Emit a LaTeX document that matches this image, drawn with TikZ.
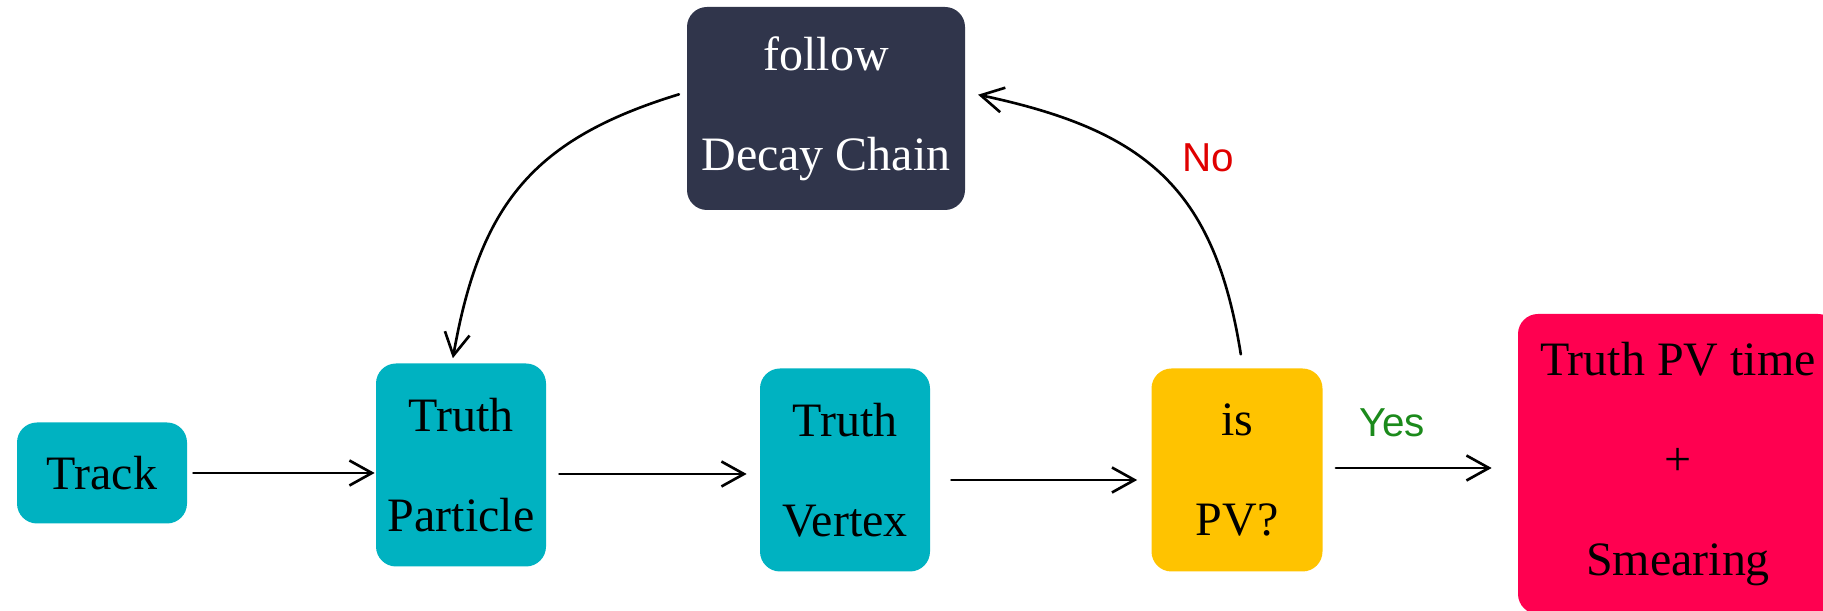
\documentclass[tikz,border=0pt]{standalone}
\usepackage{fontspec}
\setmainfont{Liberation Serif}
\newfontfamily\tayfont{Liberation Sans}
\usetikzlibrary{arrows.meta}
\definecolor{xanh}{HTML}{00B2C1}
\definecolor{vang}{HTML}{FFC300}
\definecolor{hong}{HTML}{FF0050}
\definecolor{navy}{HTML}{30354B}
\definecolor{donot}{HTML}{E00000}
\definecolor{doyes}{HTML}{1B8A1B}
\begin{document}
\begin{tikzpicture}[
    box/.style={rounded corners=0.4cm,minimum width=3.4cm,minimum height=4.06cm,
        align=center,inner sep=0pt,font=\fontsize{27.3}{56.9}\selectfont},
    arr/.style={-{Straight Barb[length=0.45cm,width=0.5cm]},line width=1.5pt,line cap=round},
    lab/.style={inner sep=0pt,font=\tayfont\fontsize{23}{27}\selectfont}]
    \useasboundingbox (0,0) rectangle (36.46,12.22);
    \clip (0,0) rectangle (36.46,12.22);
    \path
    (2.04,2.76) node[box,fill=xanh,minimum height=2.02cm] (track) {Track}
    (9.22,2.92) node[box,fill=xanh] (tpart) {Truth\\Particle}
    (16.9,2.82) node[box,fill=xanh] (tvert) {Truth\\Vertex}
    (24.74,2.82) node[box,fill=vang,minimum width=3.42cm] (ispv) {is\\PV?}
    (16.52,10.05) node[box,fill=navy,text=white,minimum width=5.56cm] (chain) {follow\\Decay Chain}
    (33.56,2.94) node[box,fill=hong,minimum width=6.4cm,minimum height=6cm] (smear) {Truth PV time\\+\\Smearing};
    % mui ten ngang
    \foreach \a/\b/\s/\e/\h in {track/tpart/0.12/0.02/0,tpart/tvert/0.26/0.26/-0.18,tvert/ispv/0.42/0.28/-0.2,ispv/smear/0.26/0.52/0.04}
    \draw[arr,shorten <=\s cm,shorten >=\e cm] ([yshift=\h cm]\a.east)--([yshift=\h cm]\a.east-|\b.west);
    % vong lap
    \draw[arr,shorten <=0.16cm,shorten >=0.1cm] ([yshift=0.33cm]chain.west) to[out=197,in=80,looseness=1.15] ([xshift=-0.18cm]tpart.north);
    \draw[arr,shorten <=0.28cm,shorten >=0.26cm] ([xshift=0.12cm]ispv.north) to[out=99,in=-12,looseness=1.2] ([yshift=0.33cm]chain.east);
    \path (24.16,9.06) node[lab,text=donot] (no) {No}
    (27.84,3.76) node[lab,text=doyes] (yes) {Yes};
\end{tikzpicture}
\end{document}
